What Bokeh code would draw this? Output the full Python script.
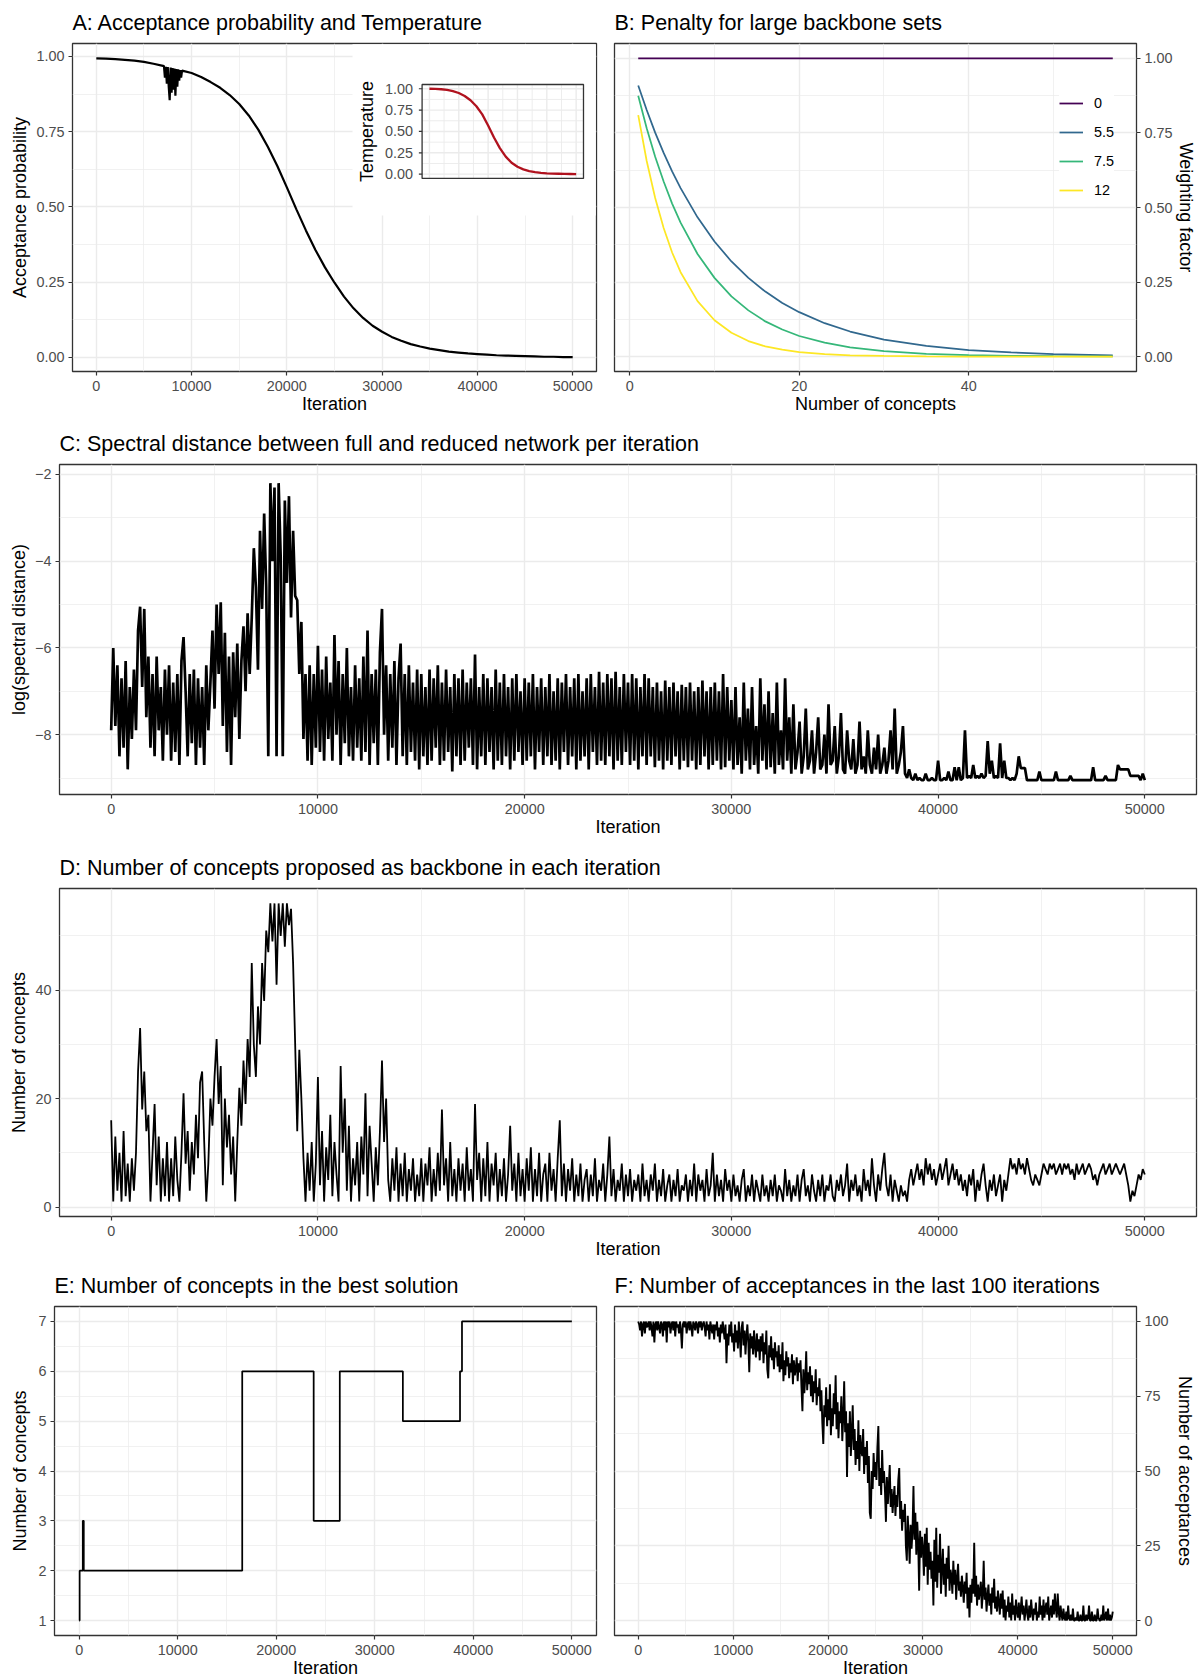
import math
from bokeh.plotting import figure
from bokeh.layouts import column, row
from bokeh.models import FixedTicker, Range1d, Legend, LegendItem
from bokeh.core.properties import value
from bokeh.embed import file_html
from bokeh.resources import INLINE

FONT = "Liberation Sans"

# ------------------------------------------------------------------ data
iter_ticks = [0, 10000, 20000, 30000, 40000, 50000]
iter_labels = ["0", "10000", "20000", "30000", "40000", "50000"]
iter_minor = [5000, 15000, 25000, 35000, 45000]
prob_ticks = [0.0, 0.25, 0.5, 0.75, 1.0]
prob_labels = ["0.00", "0.25", "0.50", "0.75", "1.00"]
prob_minor = [0.125, 0.375, 0.625, 0.875]

# A: acceptance probability per iteration
acc_iter = [0, 1000, 2000, 3000, 4000, 5000, 6000, 7000,
            7100, 7200, 7300, 7400, 7500, 7600, 7700, 7800, 7900, 8000,
            8100, 8200, 8300, 8400, 8500, 8600, 8700, 8800, 8900, 9000,
            10000, 11000, 12000, 13000, 14000, 15000, 16000, 17000, 18000,
            19000, 20000, 21000, 22000, 23000, 24000, 25000, 26000, 27000,
            28000, 29000, 30000, 31000, 32000, 33000, 34000, 35000, 36000,
            37000, 38000, 39000, 40000, 41000, 42000, 43000, 44000, 45000,
            46000, 47000, 48000, 49000, 50000]
acc_prob = [0.994, 0.993, 0.991, 0.989, 0.986, 0.982, 0.976, 0.969,
            0.968, 0.93, 0.966, 0.91, 0.965, 0.90, 0.855, 0.963, 0.88, 0.962,
            0.89, 0.96, 0.87, 0.958, 0.90, 0.957, 0.92, 0.955, 0.93, 0.953,
            0.945, 0.932, 0.915, 0.896, 0.872, 0.842, 0.804, 0.757, 0.700,
            0.636, 0.565, 0.492, 0.422, 0.357, 0.299, 0.248, 0.202, 0.163,
            0.131, 0.105, 0.085, 0.068, 0.055, 0.044, 0.036, 0.029, 0.024,
            0.019, 0.016, 0.013, 0.011, 0.009, 0.007, 0.006, 0.005, 0.004,
            0.003, 0.002, 0.002, 0.001, 0.001]

# A inset: temperature
temp_iter = [0, 2000, 4000, 6000, 8000, 10000, 12000, 14000, 16000, 18000,
             20000, 22000, 24000, 26000, 28000, 30000, 32000, 34000, 36000,
             38000, 40000, 42000, 44000, 46000, 48000, 50000]
temp_val = [1.000, 0.998, 0.994, 0.986, 0.972, 0.950, 0.915, 0.865, 0.795,
            0.700, 0.570, 0.430, 0.305, 0.205, 0.133, 0.086, 0.056, 0.036,
            0.024, 0.016, 0.010, 0.007, 0.005, 0.003, 0.002, 0.001]

# B: penalty curves
pen_x = [1, 2, 3, 4, 5, 6, 8, 10, 12, 14, 16, 18, 20, 23, 26, 30, 35, 40, 45, 50, 57]
pen_names = ["0", "5.5", "7.5", "12"]
pen_0 = [1.0, 1.0, 1.0, 1.0, 1.0, 1.0, 1.0, 1.0, 1.0, 1.0, 1.0, 1.0, 1.0, 1.0,
         1.0, 1.0, 1.0, 1.0, 1.0, 1.0, 1.0]
pen_55 = [0.909, 0.827, 0.751, 0.683, 0.621, 0.565, 0.467, 0.386, 0.319, 0.264,
          0.218, 0.180, 0.149, 0.112, 0.084, 0.057, 0.036, 0.022, 0.014, 0.0086, 0.0044]
pen_75 = [0.875, 0.766, 0.670, 0.587, 0.513, 0.449, 0.344, 0.264, 0.202, 0.155,
          0.118, 0.091, 0.069, 0.047, 0.031, 0.018, 0.0094, 0.0048, 0.0025, 0.0013, 0.0005]
pen_12 = [0.810, 0.656, 0.532, 0.431, 0.349, 0.283, 0.186, 0.122, 0.080, 0.052,
          0.034, 0.023, 0.015, 0.008, 0.004, 0.002, 0.0006, 0.0002, 0.0001, 0.0, 0.0]
pen_colors = ["#440154", "#31688E", "#35B779", "#FDE725"]
conc_ticks = [0, 20, 40]
conc_labels = ["0", "20", "40"]
conc_minor = [10, 30, 50]

# C: log(spectral distance), one reading every 100 iterations
spec_log = [
    -7.9, -6.0, -7.8, -6.4, -8.5, -6.7, -8.3, -6.3, -8.8, -6.9,
    -8.1, -6.5, -7.9, -5.6, -5.05, -6.9, -5.1, -7.6, -6.2, -8.3,
    -6.6, -8.5, -6.2, -7.9, -6.9, -8.6, -6.5, -8.0, -6.4, -8.6,
    -6.8, -8.4, -6.6, -8.7, -6.3, -5.75, -7.0, -8.5, -6.6, -8.2,
    -6.5, -8.7, -6.7, -8.3, -6.9, -8.7, -6.4, -7.9, -6.8, -5.6,
    -7.4, -5.0, -6.6, -4.95, -7.8, -5.65, -8.4, -6.2, -8.7, -6.1,
    -7.6, -5.9, -8.1, -6.3, -5.5, -7.0, -5.2, -6.6, -5.3, -3.7,
    -4.6, -6.5, -3.3, -5.1, -2.9, -4.6, -8.5, -2.2, -4.0, -2.3,
    -8.5, -2.2, -3.9, -8.5, -2.6, -4.5, -2.5, -5.3, -3.3, -4.8,
    -4.9, -6.6, -5.4, -8.1, -6.6, -8.6, -6.4, -8.7, -6.6, -8.3,
    -5.95, -8.4, -6.5, -8.6, -6.2, -8.1, -6.8, -8.6, -5.7, -8.0,
    -6.3, -8.7, -6.6, -8.2, -6.0, -8.5, -6.9, -8.6, -6.4, -8.3,
    -6.7, -8.6, -6.2, -8.4, -5.6, -8.7, -6.6, -8.2, -6.5, -8.7,
    -6.1, -5.1, -8.0, -6.4, -8.6, -6.6, -8.3, -6.3, -8.7, -6.7,
    -5.9, -8.5, -6.6, -8.7, -6.4, -8.4, -6.8, -8.6, -6.5, -8.8,
    -6.6, -8.5, -6.9, -8.7, -6.5, -8.6, -6.7, -8.3, -6.4, -8.7,
    -6.8, -8.6, -6.5, -8.4, -6.9, -8.85, -6.6, -8.5, -6.7, -8.7,
    -6.5, -8.6, -6.8, -8.3, -6.7, -8.7, -6.15, -8.8, -6.9, -8.5,
    -6.6, -8.7, -6.7, -8.4, -6.9, -8.8, -6.5, -8.6, -6.8, -8.7,
    -6.6, -8.5, -6.9, -8.8, -6.7, -8.6, -6.6, -8.4, -7.0, -8.7,
    -6.7, -8.6, -6.8, -8.5, -6.6, -8.8, -6.9, -8.4, -6.7, -8.7,
    -6.9, -8.5, -6.6, -8.7, -7.0, -8.6, -6.7, -8.8, -6.8, -8.4,
    -6.6, -8.7, -6.9, -8.5, -6.7, -8.8, -6.6, -8.6, -7.0, -8.5,
    -6.7, -8.8, -6.6, -8.4, -6.9, -8.7, -6.55, -8.6, -6.8, -8.7,
    -6.6, -8.5, -6.7, -8.8, -6.55, -8.6, -6.9, -8.7, -6.6, -8.4,
    -6.8, -8.7, -6.6, -8.6, -6.7, -8.8, -6.9, -8.5, -6.6, -8.7,
    -6.7, -8.5, -6.9, -8.75, -6.8, -8.6, -7.0, -8.8, -6.75, -8.6,
    -6.9, -8.7, -6.8, -8.5, -7.0, -8.8, -6.85, -8.6, -6.9, -8.75,
    -6.8, -8.6, -7.0, -8.8, -6.9, -8.7, -6.75, -8.5, -7.0, -8.8,
    -6.9, -8.7, -6.8, -8.6, -7.0, -8.8, -6.6, -8.75, -6.9, -8.6,
    -7.2, -8.8, -6.9, -8.7, -7.6, -8.9, -6.8, -8.6, -7.4, -8.8,
    -6.9, -8.7, -7.8, -8.9, -6.7, -8.6, -7.3, -8.8, -7.0, -8.75,
    -7.5, -8.9, -6.8, -8.7, -7.9, -8.8, -6.7, -8.6, -7.6, -8.9,
    -7.3, -8.8, -8.4, -7.7, -8.9, -8.5, -7.4, -8.8, -8.6, -7.9,
    -8.9, -8.4, -7.6, -8.8, -8.7, -8.0, -8.9, -7.3, -8.7, -8.6,
    -7.8, -8.9, -8.5, -7.5, -8.8, -8.9, -7.9, -8.6, -8.8, -8.1,
    -8.9, -8.7, -7.7, -8.8, -8.5, -8.9, -7.9, -8.7, -8.9, -8.3,
    -8.8, -8.0, -8.9, -8.7, -8.3, -8.9, -8.6, -7.9, -8.8, -7.4,
    -8.9, -8.7, -8.4, -7.8, -8.9, -9.0, -8.8, -9.0, -9.05, -8.9,
    -9.05, -9.0, -9.05, -9.05, -8.9, -9.05, -9.05, -9.0, -9.05, -9.05,
    -8.6, -9.05, -9.05, -9.0, -9.05, -8.85, -9.05, -9.05, -8.75, -9.05,
    -8.75, -9.05, -9.0, -7.9, -9.0, -8.95, -9.0, -8.7, -9.0, -8.95,
    -9.0, -8.9, -9.0, -8.95, -8.15, -8.9, -8.6, -9.0, -8.95, -9.0,
    -8.2, -9.0, -8.6, -9.0, -9.0, -9.05, -9.0, -9.05, -8.9, -8.5,
    -8.77, -8.77, -8.77, -9.05, -9.05, -9.05, -9.05, -9.05, -9.05, -8.85,
    -9.05, -9.05, -9.05, -9.05, -9.05, -9.05, -9.05, -8.85, -9.05, -9.05,
    -9.05, -9.05, -9.05, -9.05, -8.95, -9.05, -9.05, -9.05, -9.05, -9.05,
    -9.05, -9.05, -9.05, -9.05, -9.05, -8.75, -9.05, -9.05, -9.05, -9.05,
    -9.05, -8.95, -9.05, -9.05, -9.05, -9.05, -9.05, -8.7, -8.8, -8.8,
    -8.8, -8.8, -8.8, -8.95, -8.95, -8.95, -8.95, -8.95, -9.05, -8.9,
    -9.05]
spec_ticks = [-8, -6, -4, -2]
spec_labels = ["\u22128", "\u22126", "\u22124", "\u22122"]
spec_minor = [-9, -7, -5, -3]

# D: number of concepts proposed, one reading every 100 iterations
proposed = [
    16, 1, 13, 3, 10, 1, 14, 2, 8, 1,
    9, 3, 10, 25, 33, 18, 25, 14, 17, 1,
    10, 19, 4, 13, 1, 9, 2, 12, 1, 9,
    2, 13, 5, 1, 10, 21, 8, 14, 3, 12,
    6, 17, 9, 23, 25, 12, 1, 8, 20, 15,
    24, 31, 19, 26, 4, 20, 11, 17, 6, 13,
    1, 12, 22, 15, 27, 19, 31, 24, 45, 30,
    24, 37, 30, 45, 38, 51, 47, 56, 49, 56,
    41, 56, 50, 56, 48, 56, 52, 55, 45, 30,
    14, 29, 20, 9, 1, 10, 3, 12, 1, 8,
    24, 4, 14, 1, 11, 5, 17, 2, 12, 6,
    1, 26, 10, 20, 3, 15, 1, 9, 4, 12,
    1, 13, 6, 21, 2, 15, 8, 1, 11, 4,
    14, 27, 12, 20, 5, 1, 9, 3, 11, 1,
    8, 2, 10, 1, 7, 3, 9, 1, 6, 2,
    9, 1, 8, 4, 11, 1, 7, 2, 10, 3,
    18, 4, 9, 1, 12, 2, 7, 1, 9, 3,
    8, 1, 11, 3, 7, 1, 19, 5, 10, 1,
    9, 2, 12, 1, 8, 4, 10, 1, 7, 2,
    9, 1, 6, 15, 3, 8, 1, 10, 2, 7,
    1, 9, 3, 11, 1, 7, 2, 10, 1, 6,
    8, 1, 10, 3, 7, 1, 9, 16, 2, 8,
    1, 7, 3, 9, 1, 6, 2, 8, 1, 5,
    7, 1, 6, 2, 9, 1, 5, 3, 8, 1,
    6, 13, 2, 7, 1, 5, 3, 8, 1, 6,
    2, 7, 1, 5, 3, 6, 1, 8, 2, 5,
    1, 6, 3, 8, 1, 5, 2, 7, 1, 4,
    6, 1, 5, 2, 7, 1, 4, 3, 6, 1,
    5, 2, 8, 1, 6, 3, 5, 1, 7, 2,
    4, 10, 1, 6, 2, 5, 1, 7, 3, 5,
    1, 6, 2, 4, 1, 5, 7, 1, 4, 2,
    6, 1, 5, 3, 1, 6, 2, 4, 1, 5,
    2, 6, 1, 4, 3, 1, 7, 2, 5, 1,
    4, 2, 6, 1, 5, 7, 2, 4, 1, 6,
    3, 1, 5, 2, 6, 1, 4, 3, 6, 2,
    1, 5, 3, 6, 2, 4, 8, 1, 5, 3,
    6, 2, 4, 1, 7, 3, 5, 2, 9, 4,
    1, 6, 3, 7, 10, 4, 2, 6, 1, 5,
    3, 1, 4, 2, 3, 1, 5, 7, 4, 6,
    8, 5, 7, 4, 9, 6, 8, 5, 7, 4,
    6, 8, 5, 7, 9, 4, 6, 8, 5, 7,
    4, 6, 3, 5, 2, 6, 4, 7, 1, 5,
    3, 6, 8, 4, 1, 5, 3, 6, 2, 4,
    6, 1, 5, 3, 6, 9, 7, 8, 6, 9,
    7, 8, 6, 9, 7, 5, 4, 6, 5, 4,
    6, 8, 7, 6, 8, 7, 8, 6, 7, 8,
    6, 8, 7, 8, 6, 7, 5, 8, 6, 7,
    8, 6, 7, 8, 7, 5, 6, 4, 6, 7,
    8, 6, 7, 8, 6, 7, 8, 7, 6, 7,
    8, 6, 4, 1, 3, 2, 4, 6, 5, 7,
    6]
prop_ticks = [0, 20, 40]
prop_labels = ["0", "20", "40"]
prop_minor = [10, 30, 50]

# E: number of concepts in the best solution (step changes)
best_iter = [0, 50, 370, 470, 16550, 23800, 26450, 32850, 38650, 38850, 50000]
best_size = [1, 2, 3, 2, 6, 3, 6, 5, 6, 7, 7]
best_ticks = [1, 2, 3, 4, 5, 6, 7]
best_labels = ["1", "2", "3", "4", "5", "6", "7"]
best_minor = [1.5, 2.5, 3.5, 4.5, 5.5, 6.5]

# F: acceptances in the last 100 iterations, one reading every 100 iterations
accepts = [
    100, 99, 97, 100, 95, 99, 100, 96, 100, 98,
    99, 100, 97, 100, 98, 95, 100, 93, 99, 100,
    97, 100, 98, 96, 100, 99, 95, 100, 97, 100,
    93, 100, 98, 100, 96, 99, 100, 97, 100, 95,
    100, 98, 99, 96, 100, 97, 91, 99, 100, 98,
    100, 96, 99, 100, 97, 100, 98, 95, 100, 99,
    97, 100, 99, 96, 100, 98, 100, 97, 99, 100,
    98, 95, 100, 97, 99, 94, 100, 98, 96, 99,
    94, 99, 97, 100, 95, 98, 93, 99, 96, 100,
    97, 94, 99, 86, 96, 92, 99, 95, 100, 93,
    96, 90, 99, 93, 97, 91, 100, 95, 88, 98,
    100, 92, 97, 89, 95, 99, 93, 83, 96, 91,
    95, 89, 97, 92, 88, 96, 90, 94, 87, 95,
    90, 96, 86, 93, 89, 97, 84, 81, 92, 88,
    95, 87, 91, 84, 93, 88, 90, 85, 92, 83,
    89, 84, 93, 80, 87, 82, 90, 85, 88, 81,
    86, 83, 89, 79, 87, 82, 84, 88, 80, 86,
    83, 87, 78, 70, 84, 76, 81, 90, 77, 83,
    79, 85, 75, 82, 73, 80, 76, 84, 72, 78,
    75, 81, 70, 77, 66, 59, 72, 68, 78, 65,
    74, 67, 79, 62, 71, 65, 76, 69, 82, 64,
    73, 61, 70, 66, 75, 60, 68, 80, 63, 70,
    48, 66, 58, 70, 55, 63, 72, 57, 64, 52,
    60, 54, 67, 50, 62, 57, 55, 64, 49, 58,
    52, 60, 46, 55, 36, 34, 50, 44, 56, 48,
    53, 47, 58, 65, 45, 51, 42, 57, 46, 50,
    43, 33, 48, 39, 45, 52, 38, 44, 36, 41,
    45, 35, 42, 38, 47, 51, 34, 40, 30, 37,
    33, 39, 25, 20, 35, 28, 19, 32, 24, 30,
    45, 27, 36, 22, 33, 26, 10, 30, 21, 28,
    24, 15, 29, 18, 31, 12, 26, 17, 23, 14,
    20, 5, 27, 13, 31, 11, 22, 16, 29, 9,
    18, 24, 12, 19, 8, 21, 14, 25, 10, 17,
    15, 9, 20, 12, 17, 7, 14, 19, 10, 13,
    8, 15, 11, 6, 13, 9, 16, 4, 11, 1,
    12, 6, 14, 9, 26, 8, 15, 5, 12, 7,
    10, 13, 4, 9, 20, 7, 11, 3, 8, 12,
    5, 9, 2, 11, 6, 14, 4, 8, 3, 10,
    6, 2, 9, 4, 10, 1, 7, 0, 5, 3,
    8, 1, 6, 0, 9, 2, 5, 0, 7, 3,
    1, 6, 0, 4, 8, 2, 5, 0, 3, 7,
    2, 0, 5, 1, 7, 3, 0, 4, 2, 6,
    0, 3, 1, 8, 2, 5, 0, 7, 1, 4,
    6, 2, 8, 0, 3, 5, 1, 7, 2, 9,
    4, 1, 9, 3, 0, 5, 2, 0, 4, 1,
    0, 3, 0, 5, 1, 0, 2, 0, 4, 0,
    0, 1, 0, 3, 0, 0, 2, 0, 0, 5,
    0, 0, 2, 0, 1, 5, 0, 0, 3, 0,
    0, 2, 0, 0, 4, 1, 0, 0, 2, 0,
    5, 0, 1, 3, 0, 4, 0, 2, 0, 1,
    3]
acc_ticks = [0, 25, 50, 75, 100]
acc_labels = ["0", "25", "50", "75", "100"]
acc_minor = [12.5, 37.5, 62.5, 87.5]

STEP = 100  # iterations between successive readings of C, D, F
spec_iter = [i * STEP for i in range(len(spec_log))]
prop_iter = [i * STEP for i in range(len(proposed))]
accs_iter = [i * STEP for i in range(len(accepts))]

# ------------------------------------------------------------------ styling helpers
GRID = "#EBEBEB"
FRAME = "#333333"
TICKC = "#4D4D4D"


def make_fig(w, h, xr, yr, ml, mr, mt, mb, yloc="left"):
    p = figure(width=w, height=h, x_range=Range1d(*xr), y_range=Range1d(*yr),
               output_backend="svg", toolbar_location=None, y_axis_location=yloc,
               min_border_left=ml, min_border_right=mr, min_border_top=mt,
               min_border_bottom=mb)
    p.background_fill_color = "white"
    p.border_fill_color = "white"
    p.outline_line_color = FRAME
    p.outline_line_width = 1.3
    p.title.text_font = FONT
    p.title.text_font_size = "21.5px"
    p.title.text_font_style = "normal"
    p.title.text_color = "black"
    p.title.align = "left"
    p.title.standoff = 17
    for ax in p.axis:
        ax.axis_line_color = None
        ax.major_tick_line_color = FRAME
        ax.major_tick_line_width = 1.2
        ax.major_tick_out = 4
        ax.major_tick_in = 0
        ax.minor_tick_line_color = None
        ax.major_label_text_font = FONT
        ax.major_label_text_font_size = "14.4px"
        ax.major_label_text_color = TICKC
        ax.major_label_standoff = 4
        ax.axis_label_text_font = FONT
        ax.axis_label_text_font_size = "18px"
        ax.axis_label_text_font_style = "normal"
        ax.axis_label_text_color = "black"
    p.xaxis.major_label_standoff = 5
    p.xaxis.axis_label_standoff = 0
    for g in (p.xgrid, p.ygrid):
        g.grid_line_color = GRID
        g.grid_line_width = 1.4
        g.minor_grid_line_color = GRID
        g.minor_grid_line_width = 0.7
    return p


def set_ticks(p, which, major, minor, labels):
    t = FixedTicker(ticks=major, minor_ticks=minor)
    ax = p.xaxis if which == "x" else p.yaxis
    gr = p.xgrid if which == "x" else p.ygrid
    ax.ticker = t
    gr.ticker = t
    ax.major_label_overrides = {m: l for m, l in zip(major, labels)}


ITER_RANGE = (-2500, 52500)

# ------------------------------------------------------------------ A
A_Y = (-0.047, 1.0432)
pA = make_fig(604, 420, ITER_RANGE, A_Y, 72, 8, 43, 49)
pA.title.text = "A: Acceptance probability and Temperature"
pA.xaxis.axis_label = "Iteration"
pA.yaxis.axis_label = "Acceptance probability"
pA.yaxis.axis_label_standoff = 3
set_ticks(pA, "x", iter_ticks, iter_minor, iter_labels)
set_ticks(pA, "y", prob_ticks, prob_minor, prob_labels)

# white background of the inset (kept just inside the panel border)
pA.quad(left=[26890], right=[52420], bottom=[0.4718], top=[1.0407],
        fill_color="white", line_color=None)

inset_x = Range1d(-2500, 52500)
inset_y = Range1d(-0.05, 1.05)
inset = pA.subplot(x_source=inset_x, y_source=inset_y,
                   x_target=Range1d(34194, 51135), y_target=Range1d(0.5947, 0.9070))
inset_vmaj = iter_ticks
inset_vmin = iter_minor
inset_hmaj = prob_ticks
inset_hmin = prob_minor
inset.segment(x0=inset_vmin, x1=inset_vmin, y0=[inset_y.start] * len(inset_vmin),
              y1=[inset_y.end] * len(inset_vmin), line_color=GRID, line_width=0.9)
inset.segment(y0=inset_hmin, y1=inset_hmin, x0=[inset_x.start] * len(inset_hmin),
              x1=[inset_x.end] * len(inset_hmin), line_color=GRID, line_width=0.9)
inset.segment(x0=inset_vmaj, x1=inset_vmaj, y0=[inset_y.start] * len(inset_vmaj),
              y1=[inset_y.end] * len(inset_vmaj), line_color=GRID, line_width=1.4)
inset.segment(y0=inset_hmaj, y1=inset_hmaj, x0=[inset_x.start] * len(inset_hmaj),
              x1=[inset_x.end] * len(inset_hmaj), line_color=GRID, line_width=1.4)
inset.line(temp_iter, temp_val, line_color="#B0121E", line_width=2.3)
inset.quad(left=[inset_x.start], right=[inset_x.end], bottom=[inset_y.start],
           top=[inset_y.end], fill_color=None, line_color=FRAME, line_width=1.3)
tick_len = 1100  # ~3.5 px in inset units
inset.segment(x0=[inset_x.start] * 5, x1=[inset_x.start - tick_len] * 5,
              y0=prob_ticks, y1=prob_ticks, line_color=FRAME, line_width=1.2)
inset.text(x=[inset_x.start] * 5, y=prob_ticks, text=prob_labels, x_offset=-9,
           text_align="right", text_baseline="middle", text_font=value(FONT),
           text_font_size=value("14.4px"), text_color=TICKC)
inset.text(x=[inset_x.start], y=[0.5], text=["Temperature"], x_offset=-55,
           angle=math.pi / 2, text_align="center", text_baseline="middle",
           text_font=value(FONT), text_font_size=value("18px"), text_color="black")

pA.line(acc_iter, acc_prob, line_color="black", line_width=2.2)

# ------------------------------------------------------------------ B
pB = make_fig(596, 420, (-1.8, 59.8), (-0.05, 1.05), 10, 64, 43, 49, yloc="right")
pB.title.text = "B: Penalty for large backbone sets"
pB.xaxis.axis_label = "Number of concepts"
pB.yaxis.axis_label = "Weighting factor"
pB.yaxis.axis_label_standoff = 0
set_ticks(pB, "x", conc_ticks, conc_minor, conc_labels)
set_ticks(pB, "y", prob_ticks, prob_minor, prob_labels)
items = []
for name, ys, col in zip(pen_names, [pen_0, pen_55, pen_75, pen_12], pen_colors):
    r = pB.line(pen_x, ys, line_color=col, line_width=1.75)
    items.append(LegendItem(label=name, renderers=[r]))
leg = Legend(items=items, location=(445, 171), padding=10, spacing=9,
             glyph_width=24, glyph_height=20, label_standoff=11, margin=0,
             title=" ", title_text_font_size="8px", title_standoff=2,
             border_line_color=None, background_fill_color="white",
             background_fill_alpha=1.0, label_text_font=FONT,
             label_text_font_size="14.4px", label_text_color="black")
pB.add_layout(leg)

# ------------------------------------------------------------------ C
pC = make_fig(1200, 425, ITER_RANGE, (-9.38, -1.77), 59, 4, 44, 51)
pC.title.text = "C: Spectral distance between full and reduced network per iteration"
pC.xaxis.axis_label = "Iteration"
pC.yaxis.axis_label = "log(spectral distance)"
pC.yaxis.axis_label_standoff = 3
set_ticks(pC, "x", iter_ticks, iter_minor, iter_labels)
set_ticks(pC, "y", spec_ticks, spec_minor, spec_labels)
pC.line(spec_iter, spec_log, line_color="black", line_width=2.7)

# ------------------------------------------------------------------ D
pD = make_fig(1200, 418, ITER_RANGE, (-1.75, 58.75), 59, 4, 40, 47)
pD.title.text = "D: Number of concepts proposed as backbone in each iteration"
pD.xaxis.axis_label = "Iteration"
pD.yaxis.axis_label = "Number of concepts"
pD.yaxis.axis_label_standoff = 3
set_ticks(pD, "x", iter_ticks, iter_minor, iter_labels)
set_ticks(pD, "y", prop_ticks, prop_minor, prop_labels)
pD.line(prop_iter, proposed, line_color="black", line_width=1.8)

# ------------------------------------------------------------------ E
pE = make_fig(604, 417, ITER_RANGE, (0.7, 7.3), 54, 8, 43, 43)
pE.title.text = "E: Number of concepts in the best solution"
pE.xaxis.axis_label = "Iteration"
pE.yaxis.axis_label = "Number of concepts"
pE.yaxis.axis_label_standoff = 5
set_ticks(pE, "x", iter_ticks, iter_minor, iter_labels)
set_ticks(pE, "y", best_ticks, best_minor, best_labels)
pE.step(best_iter, best_size, mode="after", line_color="black", line_width=1.75)

# ------------------------------------------------------------------ F
pF = make_fig(596, 417, ITER_RANGE, (-5, 105), 10, 64, 43, 43, yloc="right")
pF.title.text = "F: Number of acceptances in the last 100 iterations"
pF.xaxis.axis_label = "Iteration"
pF.yaxis.axis_label = "Number of acceptances"
pF.yaxis.axis_label_standoff = 3
set_ticks(pF, "x", iter_ticks, iter_minor, iter_labels)
set_ticks(pF, "y", acc_ticks, acc_minor, acc_labels)
pF.line(accs_iter, accepts, line_color="black", line_width=1.9)

layout = column(row(pA, pB), pC, pD, row(pE, pF))
open("out.html", "w").write(file_html(layout, INLINE))
